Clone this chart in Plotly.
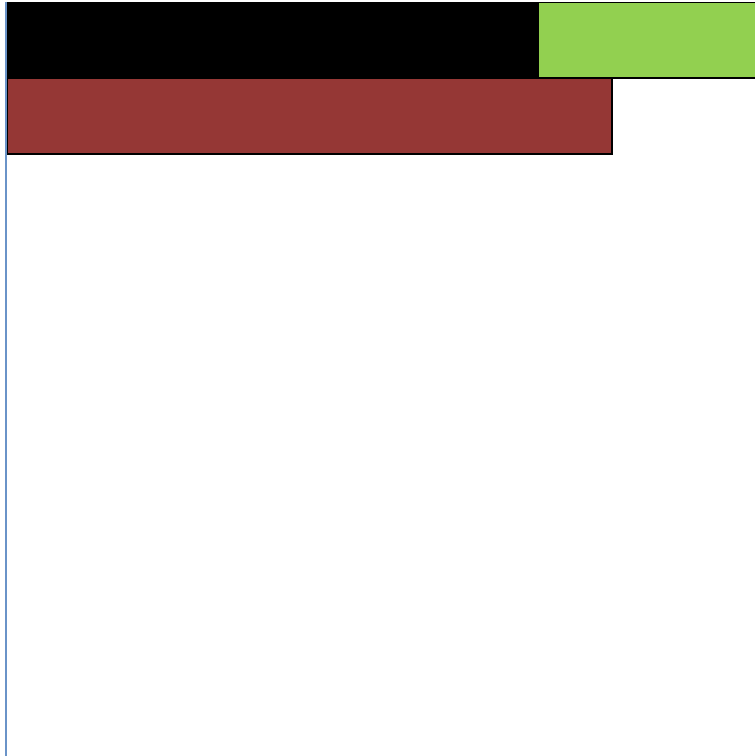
import plotly.graph_objects as go

categories = ["A", "B"]
series1 = [35.1, 40]
series2 = [20, 0]
colors1 = ["#000000", "#953735"]
color2 = "#92D050"

fig = go.Figure()
fig.add_trace(go.Bar(y=categories, x=series1, orientation="h",
                     marker=dict(color=colors1, line=dict(color="#000000", width=2)),
                     width=1.0))
fig.add_trace(go.Bar(y=categories, x=series2, orientation="h",
                     marker=dict(color=color2, line=dict(color="#000000", width=2)),
                     width=1.0))
fig.update_layout(
    barmode="stack", bargap=0, showlegend=False,
    width=755, height=756,
    margin=dict(l=7, r=0, t=2, b=0),
    paper_bgcolor="white", plot_bgcolor="white",
    xaxis=dict(range=[0, 49.45], showgrid=False, zeroline=False, showticklabels=False,
               ticks="", showline=False),
    yaxis=dict(range=[9.42, -0.5], showgrid=False, zeroline=False, showticklabels=False,
               ticks="", showline=True, linecolor="#6A93C8", linewidth=2,
               layer="below traces"),
)
fig.write_html("out.html", config={"displayModeBar": False},
               post_script="document.body.style.margin='0';document.body.style.overflow='hidden';")
